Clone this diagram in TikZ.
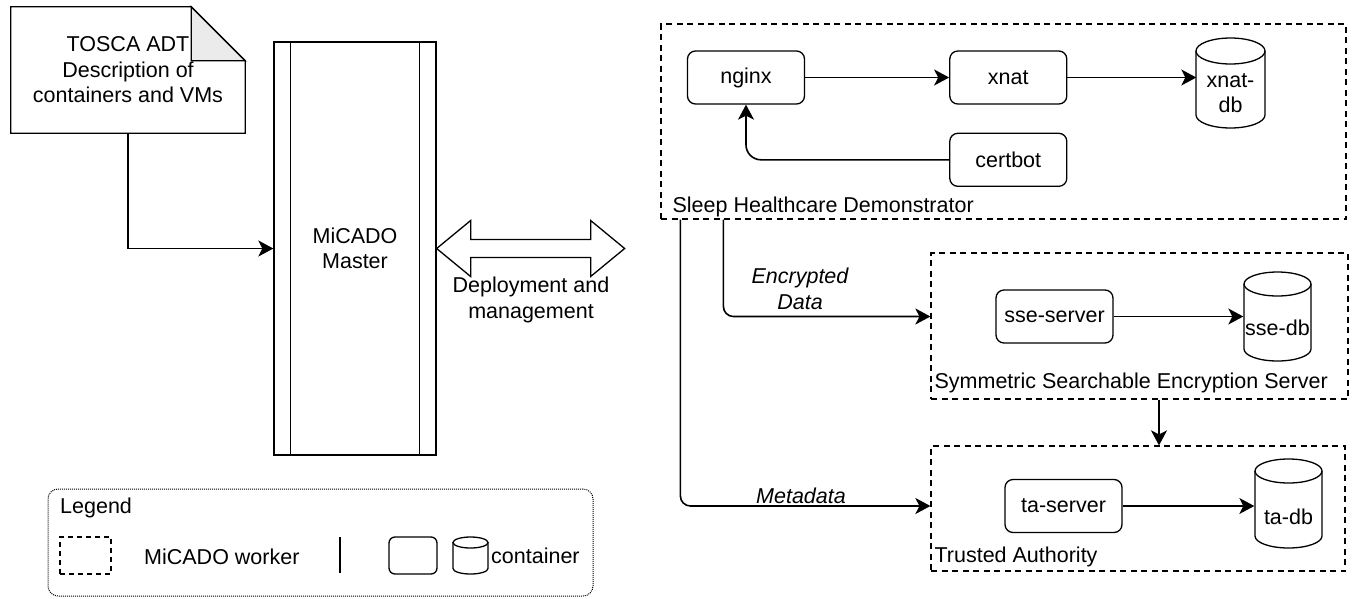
\documentclass[tikz,border=0pt]{standalone}
\usepackage{fontspec}
\setmainfont{Liberation Sans}
\usetikzlibrary{arrows.meta}
\usetikzlibrary{positioning}

\begin{document}
\begin{tikzpicture}[
        x=1pt, y=-1pt,
        font=\fontsize{21.5}{25.5}\selectfont,
        node distance=28pt,
        box/.style={rectangle, draw, rounded corners=8pt, line width=1.3pt, minimum width=117pt, minimum height=53pt, inner sep=0pt},
        dbnode/.style={rectangle, minimum width=68pt, minimum height=20pt, inner sep=0pt, align=center},
        group/.style={rectangle, draw, dash pattern=on 6pt off 4.5pt, line width=1.2pt, inner sep=0pt},
        grouplabel/.style={anchor=base west, inner sep=0pt},
        outline/.style={line width=1.3pt},
        arrow/.style={-{Stealth[length=15pt, width=16pt, inset=4pt]}, line width=1.6pt},
        flowlabel/.style={font=\fontsize{21.5}{25.5}\selectfont\itshape, align=center}
        ]
        \useasboundingbox (0,0) rectangle (1353,598);

        % TOSCA description and the master
        \node (doc) [minimum width=234pt, minimum height=126pt, inner sep=0pt, align=center] at (128,70) {TOSCA ADT\\Description of\\containers and VMs};
        \draw[outline] (doc.south west) -- (doc.north west) -- ([xshift=-54pt]doc.north east) -- ([yshift=-54pt]doc.north east) -- (doc.south east) -- cycle;
        \draw[outline, fill=black!8] ([xshift=-54pt]doc.north east) -- ([xshift=-54pt,yshift=-54pt]doc.north east) -- ([yshift=-54pt]doc.north east) -- cycle;

        \node (master) [draw, line width=1.3pt, minimum width=162pt, minimum height=413pt, inner sep=0pt, align=center] at (355,248.5) {MiCADO\\Master};
        \draw[outline] ([xshift=17pt]master.north west) -- ([xshift=17pt]master.south west);
        \draw[outline] ([xshift=-17pt]master.north east) -- ([xshift=-17pt]master.south east);

        \draw[arrow] (doc.south) |- (master.west);

        % big double arrow
        \draw[outline] (master.east) -- ++(34,-28) -- ++(0,19) -- ++(120,0) -- ++(0,-19) -- ++(34,28) -- ++(-34,28) -- ++(0,-19) -- ++(-120,0) -- ++(0,19) -- cycle;
        \node (deploy) [align=center] at (531,300) {Deployment and\\management};

        % Sleep Healthcare Demonstrator
        \node (shd) [group, minimum width=685pt, minimum height=195pt] at (1003.5,121.5) {};
        \node (shdlabel) [grouplabel] at ([xshift=12pt,yshift=7pt]shd.south west) {Sleep Healthcare Demonstrator};
        \node (nginx)   [box] at (746,77.5) {nginx};
        \node (xnat)    [box, right=144pt of nginx] {xnat};
        \node (certbot) [box, below=of xnat] {certbot};
        \node (xnatdb)  [dbnode] at (1230.5,93) {xnat-\\db};

        % Symmetric Searchable Encryption Server
        \node (sse) [group, minimum width=417pt, minimum height=146pt] at (1139.5,326) {};
        \node (sselabel) [grouplabel] at ([xshift=4pt,yshift=11pt]sse.south west) {Symmetric Searchable Encryption Server};
        \node (sseserver) [box] at (1054.5,316.5) {sse-server};
        \node (ssedb)     [dbnode] at (1277.5,328) {sse-db};

        % Trusted Authority
        \node (ta) [group, minimum width=414pt, minimum height=125pt] at (1138,508.5) {};
        \node (talabel) [grouplabel] at ([xshift=4pt,yshift=9pt]ta.south west) {Trusted Authority};
        \node (taserver) [box] at (1063.5,506) {ta-server};
        \node (tadb)     [dbnode] at (1288.5,517) {ta-db};

        % Legend
        \node (legend) [draw, rounded corners=10pt, dash pattern=on 1pt off 1pt, line width=1pt, minimum width=545pt, minimum height=107pt] at (320.5,542.5) {};
        \node (legendtitle) [anchor=west, inner sep=0pt] at (60,508) {Legend};
        \node (legworker) [group, dash pattern=on 5pt off 4pt, minimum width=51pt, minimum height=37pt] at (85.5,555.5) {};
        \node (legworkertxt) [anchor=west, inner sep=0pt] at (144,557) {MiCADO worker};
        \draw[outline] (340,537) -- (340,573);
        \node (legbox) [box, minimum width=48pt, minimum height=37pt, rounded corners=6pt] at (413,555.5) {};
        \node (legdb)  [dbnode, minimum width=35pt, minimum height=37pt] at (470.5,555.5) {};
        \node (legdbtxt) [anchor=west, inner sep=0pt] at (491,556) {container};

        % cylinder outlines: node / half width / half height / cap radius / lift
        \foreach \n/\w/\h/\r/\s in {xnatdb/34.5/45/13/10, ssedb/33.5/44.5/12/11.5, tadb/33.5/44.5/12/13.5, legdb/17.5/18.5/5.5/0}{
            \draw[outline] ([shift={({-\w pt},{\s pt+\h pt-\r pt})}]\n.center) -- ([shift={({-\w pt},{\s pt-\h pt+\r pt})}]\n.center)
                arc[start angle=180, end angle=360, x radius=\w pt, y radius=\r pt] -- ([shift={({\w pt},{\s pt+\h pt-\r pt})}]\n.center);
            \draw[outline] ([shift={(0pt,{\s pt+\h pt-\r pt})}]\n.center) ellipse[x radius=\w pt, y radius=\r pt];
        }

        % Arrows
        \draw[arrow] (nginx) -- (xnat);
        \draw[arrow] (xnat) -- (xnat -| xnatdb.west);
        \draw[arrow, rounded corners=15pt] (certbot.west) -| (nginx.south);
        \draw[arrow] (sseserver) -- (sseserver -| ssedb.west);
        \draw[arrow] (taserver) -- (taserver -| tadb.west);
        \draw[arrow, rounded corners=10pt] ([xshift=63pt]shd.south west) |- (sseserver -| sse.west);
        \draw[arrow, rounded corners=10pt] ([xshift=20pt]shd.south west) |- (taserver -| ta.west);
        \coordinate (ssedown) at ([xshift=19.5pt]sse.south);
        \draw[arrow] (ssedown) -- (ssedown |- ta.north);

        \node (enclabel)  [flowlabel] at (800,289) {Encrypted\\Data};
        \node (metalabel) [flowlabel] at (801,496) {Metadata};

    \end{tikzpicture}
\end{document}
